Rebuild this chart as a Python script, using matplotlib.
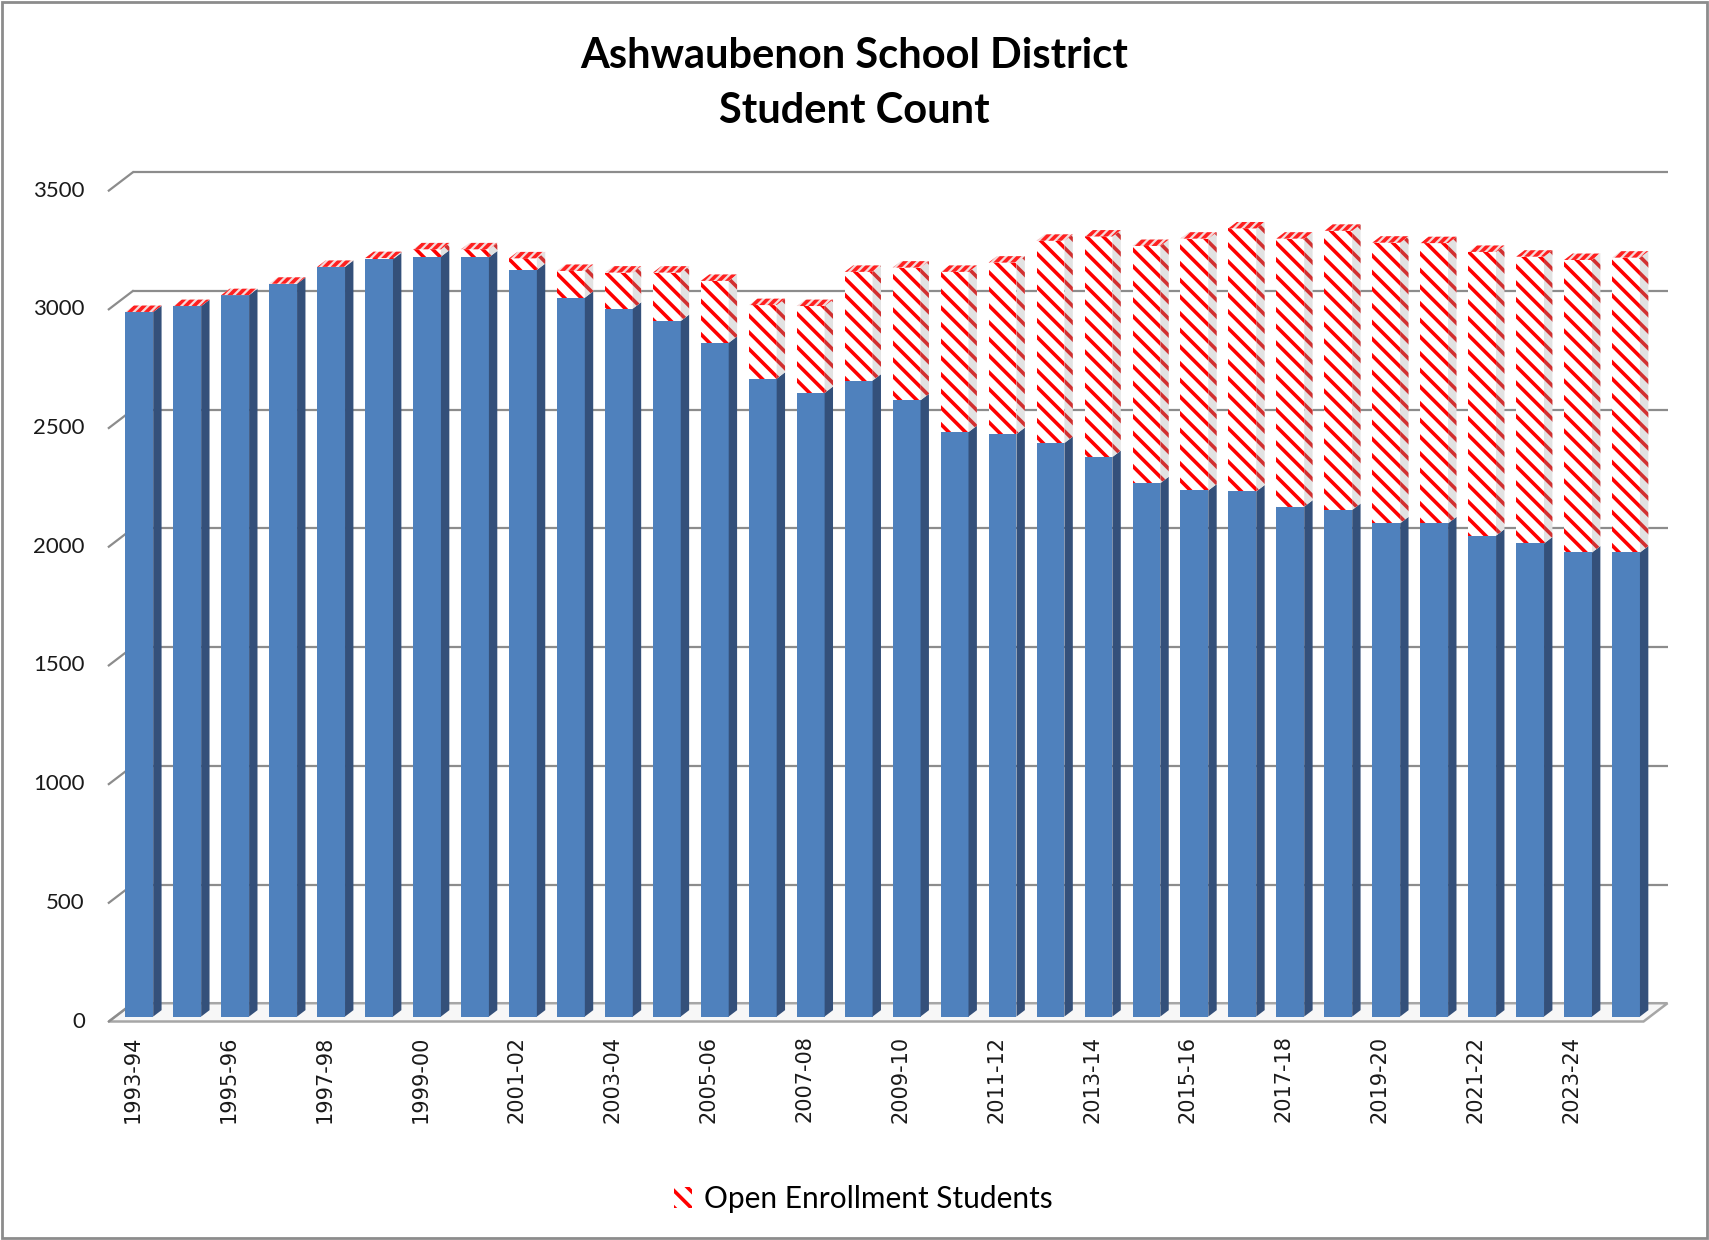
import matplotlib
matplotlib.use("Agg")
import matplotlib.pyplot as plt
from matplotlib.patches import Polygon, Rectangle

# ---------------- data ----------------
years = ["1993-94", "1994-95", "1995-96", "1996-97", "1997-98", "1998-99",
         "1999-00", "2000-01", "2001-02", "2002-03", "2003-04", "2004-05",
         "2005-06", "2006-07", "2007-08", "2008-09", "2009-10", "2010-11",
         "2011-12", "2012-13", "2013-14", "2014-15", "2015-16", "2016-17",
         "2017-18", "2018-19", "2019-20", "2020-21", "2021-22", "2022-23",
         "2023-24", "2024-25"]
resident = [2968, 2993, 3039, 3087, 3158, 3190, 3201, 3198, 3145, 3028,
            2982, 2930, 2838, 2687, 2627, 2679, 2596, 2462, 2454, 2416,
            2357, 2247, 2216, 2212, 2148, 2134, 2078, 2078, 2026, 1993,
            1955, 1955]
open_enroll = [0, 0, 0, 0, 0, 5, 31, 34, 49, 113, 152, 204, 261, 310, 366,
               458, 559, 675, 722, 852, 929, 999, 1061, 1108, 1129, 1176,
               1182, 1180, 1195, 1208, 1232, 1242]
y_ticks = [0, 500, 1000, 1500, 2000, 2500, 3000, 3500]
legend_label = "Open Enrollment Students"
title = "Ashwaubenon School District\nStudent Count"

# ---------------- style / geometry ----------------
W, H = 1709, 1240
X0_PX, UNIT_X = 132.8, 47.96      # pixel of x=0, pixels per category
Y0_PX, UNIT_Y = 1021.5, 0.2374    # pixel of value 0 (front), pixels per unit
DX, DY = 0.5, 77.0                # depth offset of back wall (data units)
TF, DEP, BW = 0.27, 0.35, 0.58    # bar front depth, bar depth, bar width

BLUE, BLUE_SIDE = "#4F81BD", "#34507A"
GRID = "#8C8C8C"

plt.rcParams["hatch.linewidth"] = 2.6

fig = plt.figure(figsize=(W / 100, H / 100), dpi=100)
ax = fig.add_axes([0, 0, 1, 1])
ax.set_xlim(-X0_PX / UNIT_X, (W - X0_PX) / UNIT_X)
ax.set_ylim(-(H - Y0_PX) / UNIT_Y, Y0_PX / UNIT_Y)
ax.axis("off")

n = len(years)
xs = list(range(n))

# floor
floor = Polygon([(-0.5, 0), (n - 0.5, 0), (n - 0.5 + DX, DY), (-0.5 + DX, DY)],
                closed=True, facecolor="#F7F7F7", edgecolor="#A6A6A6",
                linewidth=1.8, zorder=1)
ax.add_patch(floor)

# back-wall gridlines and left diagonals
for v in y_ticks:
    if v > 0:
        ax.plot([-0.5 + DX, n - 0.5 + DX], [v + DY, v + DY], color=GRID,
                lw=1.6, zorder=1.5, solid_capstyle="butt")
    ax.plot([-0.5, -0.5 + DX], [v, v + DY], color=GRID, lw=1.6, zorder=1.5)
    ax.text(-1.0, v, str(v), ha="right", va="center", fontsize=16,
            family="Lato", color="#1A1A1A")

# front faces
xf = [x + TF * DX for x in xs]
base = TF * DY
b1 = ax.bar(xf, resident, bottom=base, width=BW, color=BLUE, linewidth=0,
            zorder=3)
b2 = ax.bar(xf, open_enroll, bottom=[base + r for r in resident], width=BW,
            color="white", edgecolor="#FF0000", hatch="\\\\", linewidth=0,
            zorder=3, label=legend_label)

# side and top faces
for x, r, o in zip(xf, resident, open_enroll):
    xr = x + BW / 2
    xl = x - BW / 2
    ddx, ddy = DEP * DX, DEP * DY
    side_b = Polygon([(xr, base), (xr + ddx, base + ddy),
                      (xr + ddx, base + r + ddy), (xr, base + r)],
                     closed=True, facecolor=BLUE_SIDE, linewidth=0, zorder=3)
    ax.add_patch(side_b)
    if o > 0:
        side_r = Polygon([(xr, base + r), (xr + ddx, base + r + ddy),
                          (xr + ddx, base + r + o + ddy), (xr, base + r + o)],
                         closed=True, facecolor="#E2E2E2", edgecolor="#D23030",
                         hatch="\\\\", linewidth=0, zorder=3)
        ax.add_patch(side_r)
    t = base + r + o
    top = Polygon([(xl, t), (xr, t), (xr + ddx, t + ddy), (xl + ddx, t + ddy)],
                  closed=True, facecolor="#F4DADA", edgecolor="#FF2020",
                  hatch="////", linewidth=0, zorder=3)
    ax.add_patch(top)

# category labels (every other one)
for x, lab in zip(xs, years):
    if x % 2 == 0:
        ax.text(x, -59, lab, rotation=90, ha="center", va="top",
                fontsize=15, family="DejaVu Sans", color="#1A1A1A")

# title
fig.text(0.5, 0.9325, title, ha="center", va="center", fontsize=30,
         fontweight="bold", family="Lato", color="black", linespacing=1.55)

# legend
fig.legend(handles=[b2], labels=[legend_label], loc="center",
           bbox_to_anchor=(0.505, 0.033), frameon=False,
           prop={"family": "Lato", "size": 21.5}, handlelength=0.6,
           handleheight=0.7, handletextpad=0.4)

# chart border
fig.add_artist(Rectangle((2 / W, 2 / H), 1 - 4 / W, 1 - 4 / H,
                         transform=fig.transFigure, fill=False,
                         edgecolor="#8C8C8C", linewidth=2))

fig.savefig("out.png", dpi=100)
